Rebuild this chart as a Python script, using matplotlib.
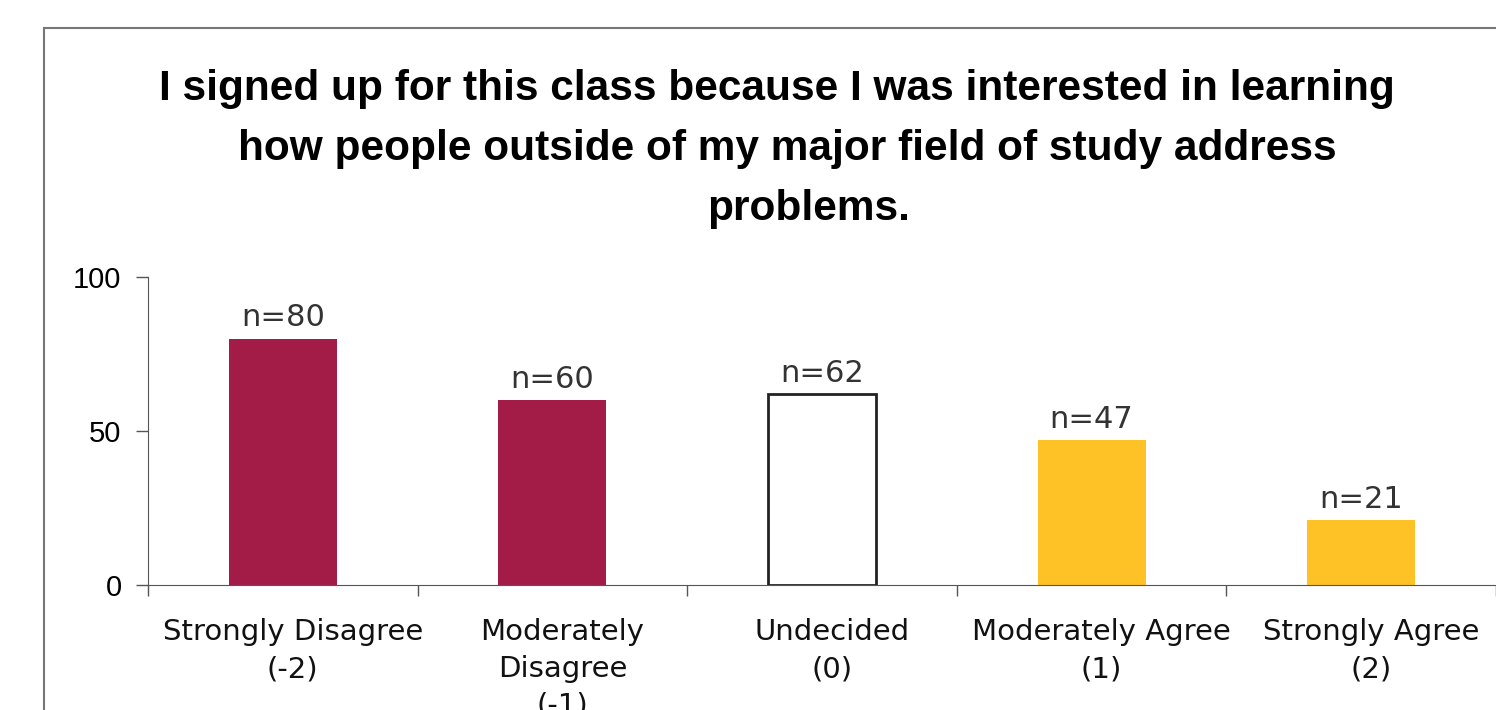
import matplotlib
matplotlib.use("Agg")
import matplotlib.pyplot as plt
from matplotlib.patches import Rectangle
from matplotlib.transforms import ScaledTranslation

# 数据
categories = ["Strongly Disagree\n(-2)", "Moderately\nDisagree\n(-1)", "Undecided\n(0)",
              "Moderately Agree\n(1)", "Strongly Agree\n(2)"]
counts = [80, 60, 62, 47, 21]
bar_colors = ["#A31C48", "#A31C48", "white", "#FFC226", "#FFC226"]
edge_colors = ["none", "none", "#222222", "none", "none"]
yticks = [0, 50, 100]
title_lines = ["I signed up for this class because I was interested in learning",
               "how people outside of my major field of study address",
               "problems."]

W, H = 1496, 710
fig = plt.figure(figsize=(W / 100, H / 100), dpi=100)

# 外框
frame = Rectangle((44 / W, -0.1), 1.2, (H - 28) / H + 0.1, transform=fig.transFigure,
                  fill=False, edgecolor="#777777", linewidth=1.5)
fig.patches.append(frame)

# 坐标区
ax = fig.add_axes([148 / W, (H - 585) / H, 1 - 148 / W, (585 - 277) / H])
x = list(range(len(counts)))
ax.bar(x, counts, width=0.4, color=bar_colors, edgecolor=edge_colors, linewidth=2)

for xi, c in zip(x, counts):
    ax.text(xi, c + 2, f"n={c}", ha="center", va="bottom", fontsize=22,
            color="#333333", family="DejaVu Sans")

ax.set_xlim(-0.5, len(counts) - 0.5)
ax.set_ylim(0, 100)
ax.set_yticks(yticks)
ax.set_yticklabels([str(v) for v in yticks], fontsize=21, family="Liberation Sans")
ax.tick_params(axis="y", length=9, width=1, color="#555555", pad=10)

# 分类边界刻度 + 分类标签
ax.set_xticks([i - 0.5 for i in range(len(counts) + 1)])
ax.set_xticklabels([])
ax.tick_params(axis="x", which="major", length=8, width=1, color="#555555")
ax.set_xticks(x, minor=True)
ax.set_xticklabels(categories, minor=True, fontsize=21, family="DejaVu Sans",
                   color="#111111", linespacing=1.4)
ax.tick_params(axis="x", which="minor", length=0, pad=24)
for lab in ax.get_xticklabels(minor=True):
    lab.set_transform(lab.get_transform() + ScaledTranslation(0.1, 0, fig.dpi_scale_trans))
    lab.set_va("top")

for s in ["top", "right"]:
    ax.spines[s].set_visible(False)
ax.spines["left"].set_color("#555555")
ax.spines["bottom"].set_color("#555555")

# 标题, 每行位置按原图
title_cx = [777, 787, 809]
title_base = [100, 160, 220]
for line, cx, by in zip(title_lines, title_cx, title_base):
    fig.text(cx / W, 1 - by / H, line, ha="center", va="baseline", fontsize=30.5,
             fontweight="bold", family="Liberation Sans")

fig.savefig("out.png", dpi=100)
